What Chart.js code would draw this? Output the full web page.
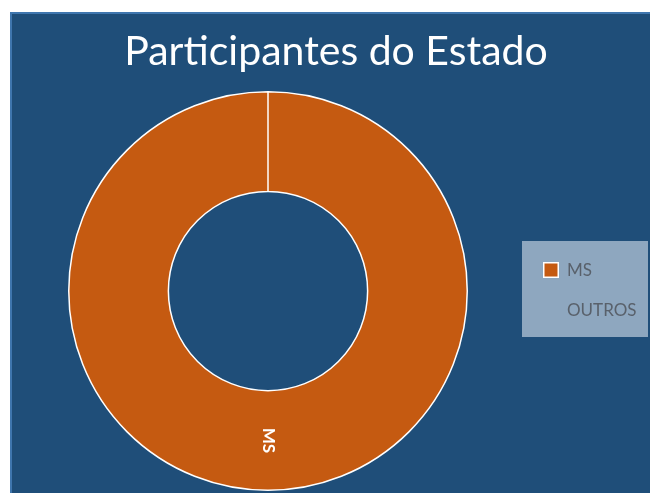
<!DOCTYPE html>
<html>
<head>
<meta charset="utf-8">
<script src="https://cdn.jsdelivr.net/npm/chart.js@4.4.1/dist/chart.umd.min.js"></script>
<style>
  html, body { margin: 0; padding: 0; background: #ffffff; }
  #wrap {
    position: absolute; left: 10px; top: 12px; width: 640px; height: 481px;
    background: #1F4E79; box-sizing: border-box;
    border-top: 2px solid #3F76AE; border-left: 2px solid #3F76AE;
  }
  #box { position: absolute; left: 0; top: 0; width: 638px; height: 479px; }
</style>
</head>
<body>
<div id="wrap"><div id="box"><canvas id="c"></canvas></div></div>
<script>
const titleText = "Participantes do Estado";
const categories = ["MS", "OUTROS"];
const values = [100, 0];
const sliceColors = ["#C55A11", "#4472C4"];

const titlePlugin = {
  id: 'pageTitle',
  afterDraw(chart) {
    const ctx = chart.ctx;
    ctx.save();
    ctx.fillStyle = '#FFFFFF';
    ctx.font = '41px Lato, "Open Sans", sans-serif';
    ctx.textAlign = 'center';
    ctx.textBaseline = 'alphabetic';
    ctx.fillText(chart.options.plugins.pageTitle.text, 324, 51);
    ctx.restore();
  }
};

const legendPlugin = {
  id: 'boxLegend',
  afterDraw(chart) {
    const ctx = chart.ctx;
    const x0 = 510, y0 = 227, w = 126, h = 96;
    ctx.save();
    ctx.fillStyle = '#8EA7BF';
    ctx.fillRect(x0, y0, w, h);
    ctx.font = '17px Lato, "Open Sans", sans-serif';
    ctx.textBaseline = 'middle';
    ctx.textAlign = 'left';
    const ds = chart.data.datasets[0];
    chart.data.labels.forEach((lab, i) => {
      const cy = y0 + 29 + i * 40;
      if (ds.data[i] > 0) {
        ctx.fillStyle = '#FFFFFF';
        ctx.fillRect(x0 + 21, cy - 8, 16, 16);
        ctx.fillStyle = ds.backgroundColor[i];
        ctx.fillRect(x0 + 22.5, cy - 6.5, 13, 13);
      }
      ctx.fillStyle = '#59616B';
      ctx.fillText(lab, x0 + 45, cy + 1);
    });
    ctx.restore();
  }
};

const labelPlugin = {
  id: 'arcLabels',
  afterDatasetsDraw(chart) {
    const ctx = chart.ctx;
    const meta = chart.getDatasetMeta(0);
    meta.data.forEach((arc, i) => {
      const v = chart.data.datasets[0].data[i];
      if (!v) return;
      const p = arc.getProps(['x', 'y', 'startAngle', 'endAngle', 'innerRadius', 'outerRadius'], true);
      const mid = (p.startAngle + p.endAngle) / 2;
      const r = (p.innerRadius + p.outerRadius) / 2;
      ctx.save();
      ctx.translate(p.x + Math.cos(mid) * r, p.y + Math.sin(mid) * r);
      ctx.rotate(mid);
      ctx.fillStyle = '#FFFFFF';
      ctx.font = 'bold 17px Lato, "Open Sans", sans-serif';
      ctx.textAlign = 'center';
      ctx.textBaseline = 'middle';
      ctx.fillText(chart.data.labels[i], 0, 0);
      ctx.restore();
    });
  }
};

new Chart(document.getElementById('c'), {
  type: 'doughnut',
  data: {
    labels: categories,
    datasets: [{
      data: values,
      backgroundColor: sliceColors,
      borderColor: '#FFFFFF',
      borderWidth: 1.5,
      hoverOffset: 0
    }]
  },
  options: {
    responsive: true,
    maintainAspectRatio: false,
    animation: false,
    cutout: '50%',
    layout: { padding: { top: 76, bottom: 1, left: 56, right: 182 } },
    plugins: {
      legend: { display: false },
      tooltip: { enabled: false },
      title: { display: false },
      pageTitle: { text: titleText }
    }
  },
  plugins: [titlePlugin, legendPlugin, labelPlugin]
});
</script>
</body>
</html>
